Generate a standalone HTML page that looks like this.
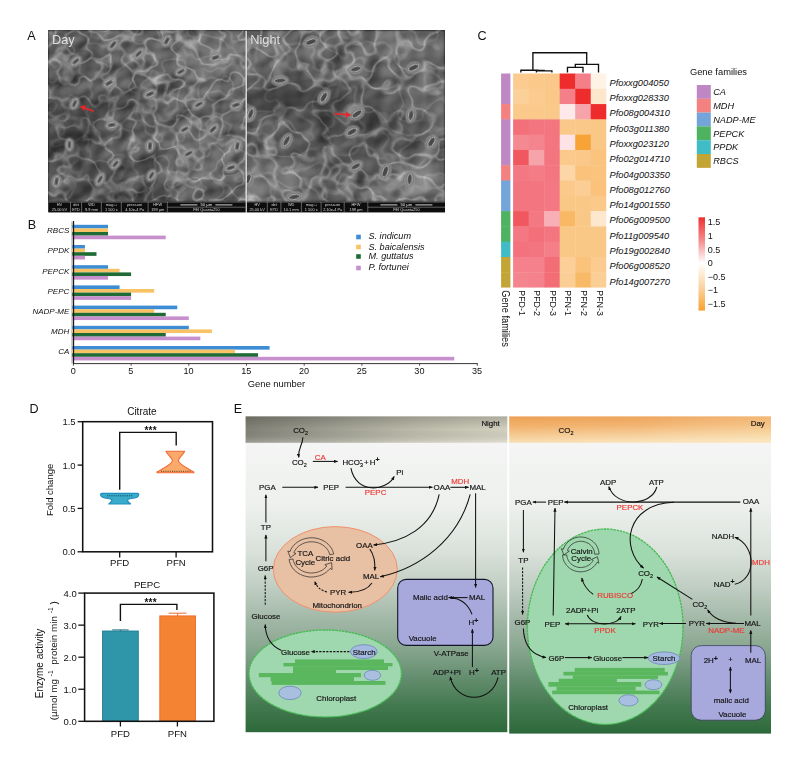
<!DOCTYPE html>
<html lang="en"><head><meta charset="utf-8"><title>Figure</title>
<style>
html,body{margin:0;padding:0;background:#fff}
svg{display:block}
text{font-family:"Liberation Sans",sans-serif}
</style></head><body>
<svg width="800" height="771" viewBox="0 0 800 771">
<rect width="800" height="771" fill="#ffffff"/>
<!-- panelA -->
<defs>
<filter id="semD" x="0" y="0" width="100%" height="100%" color-interpolation-filters="sRGB">
<feTurbulence type="fractalNoise" baseFrequency="0.045 0.05" numOctaves="2" seed="7" result="n"/>
<feComponentTransfer in="n" result="band">
<feFuncR type="table" tableValues="0 0 0 0 0 0 0 0 0 0 0 0 0 0 0.5 1 0.5 0 0 0 0 0 0 0 0 0 0 0 0 0 0"/><feFuncG type="table" tableValues="0 0 0 0 0 0 0 0 0 0 0 0 0 0 0.5 1 0.5 0 0 0 0 0 0 0 0 0 0 0 0 0 0"/><feFuncB type="table" tableValues="0 0 0 0 0 0 0 0 0 0 0 0 0 0 0.5 1 0.5 0 0 0 0 0 0 0 0 0 0 0 0 0 0"/>
<feFuncA type="linear" slope="0" intercept="1"/></feComponentTransfer>
<feColorMatrix in="band" type="matrix" values="0.36 0.18 0 0 0  0.36 0.18 0 0 0  0.36 0.18 0 0 0  0 0 0 0 1" result="ridge"/>
<feGaussianBlur in="ridge" stdDeviation="0.55" result="ridgeb"/>
<feDiffuseLighting in="n" surfaceScale="2.8" diffuseConstant="1" lighting-color="#ffffff" result="lit"><feDistantLight azimuth="235" elevation="55"/></feDiffuseLighting>
<feColorMatrix in="lit" type="matrix" values="0.9 0 0 0 -0.372  0.9 0 0 0 -0.372  0.9 0 0 0 -0.372  0 0 0 0 1" result="base"/>
<feGaussianBlur in="base" stdDeviation="0.8" result="baseb"/>
<feComposite in="ridgeb" in2="baseb" operator="arithmetic" k1="0" k2="0.5" k3="1" k4="0"/>
</filter>
<filter id="semN" x="0" y="0" width="100%" height="100%" color-interpolation-filters="sRGB">
<feTurbulence type="fractalNoise" baseFrequency="0.04 0.045" numOctaves="2" seed="23" result="n"/>
<feComponentTransfer in="n" result="band">
<feFuncR type="table" tableValues="0 0 0 0 0 0 0 0 0 0 0 0 0 0 0.5 1 0.5 0 0 0 0 0 0 0 0 0 0 0 0 0 0"/><feFuncG type="table" tableValues="0 0 0 0 0 0 0 0 0 0 0 0 0 0 0.5 1 0.5 0 0 0 0 0 0 0 0 0 0 0 0 0 0"/><feFuncB type="table" tableValues="0 0 0 0 0 0 0 0 0 0 0 0 0 0 0.5 1 0.5 0 0 0 0 0 0 0 0 0 0 0 0 0 0"/>
<feFuncA type="linear" slope="0" intercept="1"/></feComponentTransfer>
<feColorMatrix in="band" type="matrix" values="0.36 0.18 0 0 0  0.36 0.18 0 0 0  0.36 0.18 0 0 0  0 0 0 0 1" result="ridge"/>
<feGaussianBlur in="ridge" stdDeviation="0.55" result="ridgeb"/>
<feDiffuseLighting in="n" surfaceScale="2.8" diffuseConstant="1" lighting-color="#ffffff" result="lit"><feDistantLight azimuth="220" elevation="55"/></feDiffuseLighting>
<feColorMatrix in="lit" type="matrix" values="0.9 0 0 0 -0.372  0.9 0 0 0 -0.372  0.9 0 0 0 -0.372  0 0 0 0 1" result="base"/>
<feGaussianBlur in="base" stdDeviation="0.8" result="baseb"/>
<feComposite in="ridgeb" in2="baseb" operator="arithmetic" k1="0" k2="0.5" k3="1" k4="0"/>
</filter>
<filter id="bl6" x="-50%" y="-50%" width="200%" height="200%"><feGaussianBlur stdDeviation="9"/></filter>
<filter id="bl1" x="-20%" y="-20%" width="140%" height="140%"><feGaussianBlur stdDeviation="0.5"/></filter>
<clipPath id="cD"><rect x="48.30" y="30.80" width="197.10" height="171.00"/></clipPath>
<clipPath id="cN"><rect x="247.00" y="30.80" width="198.00" height="171.00"/></clipPath>
</defs>
<rect x="48.30" y="30.80" width="396.70" height="181.50" fill="#6c6c6c"/>
<rect x="48.3" y="30.8" width="197.90" height="171.00" fill="#6c6c6c" filter="url(#semD)"/>
<rect x="246.2" y="30.8" width="198.80" height="171.00" fill="#6c6c6c" filter="url(#semN)"/>
<g clip-path="url(#cD)" filter="url(#bl6)">
<ellipse cx="70" cy="130" rx="30" ry="40" fill="#000" opacity="0.28"/>
<ellipse cx="120" cy="185" rx="60" ry="20" fill="#000" opacity="0.22"/>
<ellipse cx="130" cy="110" rx="35" ry="18" fill="#000" opacity="0.18"/>
<ellipse cx="215" cy="60" rx="35" ry="25" fill="#fff" opacity="0.16"/>
<ellipse cx="150" cy="40" rx="50" ry="10" fill="#fff" opacity="0.1"/>
<ellipse cx="200" cy="150" rx="40" ry="30" fill="#fff" opacity="0.08"/>
<ellipse cx="90" cy="60" rx="25" ry="18" fill="#000" opacity="0.1"/>
</g>
<g clip-path="url(#cN)" filter="url(#bl6)">
<ellipse cx="300" cy="100" rx="55" ry="18" fill="#000" opacity="0.3"/>
<ellipse cx="380" cy="125" rx="60" ry="18" fill="#000" opacity="0.22"/>
<ellipse cx="330" cy="150" rx="40" ry="20" fill="#000" opacity="0.12"/>
<ellipse cx="420" cy="185" rx="30" ry="18" fill="#fff" opacity="0.22"/>
<ellipse cx="400" cy="45" rx="40" ry="15" fill="#fff" opacity="0.12"/>
<ellipse cx="270" cy="180" rx="30" ry="22" fill="#fff" opacity="0.14"/>
<ellipse cx="290" cy="50" rx="30" ry="15" fill="#fff" opacity="0.1"/>
<ellipse cx="430" cy="100" rx="20" ry="30" fill="#fff" opacity="0.1"/>
</g>
<g clip-path="url(#cD)">
<g transform="translate(113.0,44.7) rotate(-50)" filter="url(#bl1)"><ellipse rx="8.6" ry="5.9" fill="#858585" opacity=".42"/><ellipse rx="6.8" ry="4.3" fill="#747474" stroke="#9c9c9c" stroke-width=".7" opacity="0.95"/><ellipse rx="5.4" ry="2.6" fill="#6c6c6c" stroke="#b4b4b4" stroke-width=".9"/><ellipse rx="3.5" ry="0.55" fill="#222"/></g>
<g transform="translate(75.8,61.3) rotate(-40)" filter="url(#bl1)"><ellipse rx="7.8" ry="5.5" fill="#858585" opacity=".42"/><ellipse rx="6.0" ry="3.9" fill="#747474" stroke="#9c9c9c" stroke-width=".7" opacity="0.95"/><ellipse rx="4.8" ry="2.3" fill="#6c6c6c" stroke="#b4b4b4" stroke-width=".9"/><ellipse rx="3.1" ry="0.55" fill="#222"/></g>
<g transform="translate(166.8,40.8) rotate(-60)" filter="url(#bl1)"><ellipse rx="7.8" ry="5.9" fill="#858585" opacity=".42"/><ellipse rx="6.0" ry="4.3" fill="#747474" stroke="#9c9c9c" stroke-width=".7" opacity="0.95"/><ellipse rx="4.8" ry="2.6" fill="#6c6c6c" stroke="#b4b4b4" stroke-width=".9"/><ellipse rx="3.1" ry="0.55" fill="#222"/></g>
<g transform="translate(138.6,53.6) rotate(-45)" filter="url(#bl1)"><ellipse rx="8.6" ry="5.5" fill="#858585" opacity=".42"/><ellipse rx="6.8" ry="3.9" fill="#747474" stroke="#9c9c9c" stroke-width=".7" opacity="0.95"/><ellipse rx="5.4" ry="2.3" fill="#6c6c6c" stroke="#b4b4b4" stroke-width=".9"/><ellipse rx="3.5" ry="0.55" fill="#222"/></g>
<g transform="translate(215.5,57.5) rotate(-20)" filter="url(#bl1)"><ellipse rx="7.8" ry="5.9" fill="#858585" opacity=".42"/><ellipse rx="6.0" ry="4.3" fill="#747474" stroke="#9c9c9c" stroke-width=".7" opacity="0.95"/><ellipse rx="4.8" ry="2.6" fill="#6c6c6c" stroke="#b4b4b4" stroke-width=".9"/><ellipse rx="3.1" ry="0.55" fill="#222"/></g>
<g transform="translate(180.9,71.6) rotate(-30)" filter="url(#bl1)"><ellipse rx="7.8" ry="5.5" fill="#858585" opacity=".42"/><ellipse rx="6.0" ry="3.9" fill="#747474" stroke="#9c9c9c" stroke-width=".7" opacity="0.95"/><ellipse rx="4.8" ry="2.3" fill="#6c6c6c" stroke="#b4b4b4" stroke-width=".9"/><ellipse rx="3.1" ry="0.55" fill="#222"/></g>
<g transform="translate(150.0,94.0) rotate(-25)" filter="url(#bl1)"><ellipse rx="8.6" ry="5.9" fill="#858585" opacity=".42"/><ellipse rx="6.8" ry="4.3" fill="#747474" stroke="#9c9c9c" stroke-width=".7" opacity="0.95"/><ellipse rx="5.4" ry="2.6" fill="#6c6c6c" stroke="#b4b4b4" stroke-width=".9"/><ellipse rx="3.5" ry="0.55" fill="#222"/></g>
<g transform="translate(74.5,103.6) rotate(-65)" filter="url(#bl1)"><ellipse rx="7.8" ry="5.5" fill="#858585" opacity=".42"/><ellipse rx="6.0" ry="3.9" fill="#747474" stroke="#9c9c9c" stroke-width=".7" opacity="0.95"/><ellipse rx="4.8" ry="2.3" fill="#6c6c6c" stroke="#b4b4b4" stroke-width=".9"/><ellipse rx="3.1" ry="0.55" fill="#222"/></g>
<g transform="translate(109.0,83.0) rotate(-30)" filter="url(#bl1)"><ellipse rx="7.8" ry="5.9" fill="#858585" opacity=".42"/><ellipse rx="6.0" ry="4.3" fill="#747474" stroke="#9c9c9c" stroke-width=".7" opacity="0.95"/><ellipse rx="4.8" ry="2.6" fill="#6c6c6c" stroke="#b4b4b4" stroke-width=".9"/><ellipse rx="3.1" ry="0.55" fill="#222"/></g>
<g transform="translate(198.8,104.4) rotate(-30)" filter="url(#bl1)"><ellipse rx="8.6" ry="5.5" fill="#858585" opacity=".42"/><ellipse rx="6.8" ry="3.9" fill="#747474" stroke="#9c9c9c" stroke-width=".7" opacity="0.95"/><ellipse rx="5.4" ry="2.3" fill="#6c6c6c" stroke="#b4b4b4" stroke-width=".9"/><ellipse rx="3.5" ry="0.55" fill="#222"/></g>
<g transform="translate(111.7,125.0) rotate(-10)" filter="url(#bl1)"><ellipse rx="7.8" ry="5.9" fill="#858585" opacity=".42"/><ellipse rx="6.0" ry="4.3" fill="#747474" stroke="#9c9c9c" stroke-width=".7" opacity="0.95"/><ellipse rx="4.8" ry="2.6" fill="#6c6c6c" stroke="#b4b4b4" stroke-width=".9"/><ellipse rx="3.1" ry="0.55" fill="#222"/></g>
<g transform="translate(184.7,129.3) rotate(-30)" filter="url(#bl1)"><ellipse rx="7.8" ry="5.5" fill="#858585" opacity=".42"/><ellipse rx="6.0" ry="3.9" fill="#747474" stroke="#9c9c9c" stroke-width=".7" opacity="0.95"/><ellipse rx="4.8" ry="2.3" fill="#6c6c6c" stroke="#b4b4b4" stroke-width=".9"/><ellipse rx="3.1" ry="0.55" fill="#222"/></g>
<g transform="translate(213.0,129.3) rotate(-45)" filter="url(#bl1)"><ellipse rx="8.6" ry="5.9" fill="#858585" opacity=".42"/><ellipse rx="6.8" ry="4.3" fill="#747474" stroke="#9c9c9c" stroke-width=".7" opacity="0.95"/><ellipse rx="5.4" ry="2.6" fill="#6c6c6c" stroke="#b4b4b4" stroke-width=".9"/><ellipse rx="3.5" ry="0.55" fill="#222"/></g>
<g transform="translate(69.4,144.7) rotate(-90)" filter="url(#bl1)"><ellipse rx="7.8" ry="5.5" fill="#858585" opacity=".42"/><ellipse rx="6.0" ry="3.9" fill="#747474" stroke="#9c9c9c" stroke-width=".7" opacity="0.95"/><ellipse rx="4.8" ry="2.3" fill="#6c6c6c" stroke="#b4b4b4" stroke-width=".9"/><ellipse rx="3.1" ry="0.55" fill="#222"/></g>
<g transform="translate(150.0,146.0) rotate(-85)" filter="url(#bl1)"><ellipse rx="7.8" ry="5.9" fill="#858585" opacity=".42"/><ellipse rx="6.0" ry="4.3" fill="#747474" stroke="#9c9c9c" stroke-width=".7" opacity="0.95"/><ellipse rx="4.8" ry="2.6" fill="#6c6c6c" stroke="#b4b4b4" stroke-width=".9"/><ellipse rx="3.1" ry="0.55" fill="#222"/></g>
<g transform="translate(188.6,153.6) rotate(-30)" filter="url(#bl1)"><ellipse rx="8.6" ry="5.5" fill="#858585" opacity=".42"/><ellipse rx="6.8" ry="3.9" fill="#747474" stroke="#9c9c9c" stroke-width=".7" opacity="0.95"/><ellipse rx="5.4" ry="2.3" fill="#6c6c6c" stroke="#b4b4b4" stroke-width=".9"/><ellipse rx="3.5" ry="0.55" fill="#222"/></g>
<g transform="translate(237.3,146.0) rotate(-80)" filter="url(#bl1)"><ellipse rx="7.8" ry="5.9" fill="#858585" opacity=".42"/><ellipse rx="6.0" ry="4.3" fill="#747474" stroke="#9c9c9c" stroke-width=".7" opacity="0.95"/><ellipse rx="4.8" ry="2.6" fill="#6c6c6c" stroke="#b4b4b4" stroke-width=".9"/><ellipse rx="3.1" ry="0.55" fill="#222"/></g>
<g transform="translate(115.5,163.9) rotate(-50)" filter="url(#bl1)"><ellipse rx="7.8" ry="5.5" fill="#858585" opacity=".42"/><ellipse rx="6.0" ry="3.9" fill="#747474" stroke="#9c9c9c" stroke-width=".7" opacity="0.95"/><ellipse rx="4.8" ry="2.3" fill="#6c6c6c" stroke="#b4b4b4" stroke-width=".9"/><ellipse rx="3.1" ry="0.55" fill="#222"/></g>
<g transform="translate(230.9,167.7) rotate(-20)" filter="url(#bl1)"><ellipse rx="8.6" ry="5.9" fill="#858585" opacity=".42"/><ellipse rx="6.8" ry="4.3" fill="#747474" stroke="#9c9c9c" stroke-width=".7" opacity="0.95"/><ellipse rx="5.4" ry="2.6" fill="#6c6c6c" stroke="#b4b4b4" stroke-width=".9"/><ellipse rx="3.5" ry="0.55" fill="#222"/></g>
<g transform="translate(151.4,175.4) rotate(-60)" filter="url(#bl1)"><ellipse rx="7.8" ry="5.5" fill="#858585" opacity=".42"/><ellipse rx="6.0" ry="3.9" fill="#747474" stroke="#9c9c9c" stroke-width=".7" opacity="0.95"/><ellipse rx="4.8" ry="2.3" fill="#6c6c6c" stroke="#b4b4b4" stroke-width=".9"/><ellipse rx="3.1" ry="0.55" fill="#222"/></g>
<g transform="translate(56.5,181.3) rotate(-80)" filter="url(#bl1)"><ellipse rx="7.8" ry="5.9" fill="#858585" opacity=".42"/><ellipse rx="6.0" ry="4.3" fill="#747474" stroke="#9c9c9c" stroke-width=".7" opacity="0.95"/><ellipse rx="4.8" ry="2.6" fill="#6c6c6c" stroke="#b4b4b4" stroke-width=".9"/><ellipse rx="3.1" ry="0.55" fill="#222"/></g>
<g transform="translate(100.0,179.3) rotate(-60)" filter="url(#bl1)"><ellipse rx="8.6" ry="5.5" fill="#858585" opacity=".42"/><ellipse rx="6.8" ry="3.9" fill="#747474" stroke="#9c9c9c" stroke-width=".7" opacity="0.95"/><ellipse rx="5.4" ry="2.3" fill="#6c6c6c" stroke="#b4b4b4" stroke-width=".9"/><ellipse rx="3.5" ry="0.55" fill="#222"/></g>
<g transform="translate(236.0,105.0) rotate(-20)" filter="url(#bl1)"><ellipse rx="7.8" ry="5.9" fill="#858585" opacity=".42"/><ellipse rx="6.0" ry="4.3" fill="#747474" stroke="#9c9c9c" stroke-width=".7" opacity="0.95"/><ellipse rx="4.8" ry="2.6" fill="#6c6c6c" stroke="#b4b4b4" stroke-width=".9"/><ellipse rx="3.1" ry="0.55" fill="#222"/></g>
</g><g clip-path="url(#cN)">
<g transform="translate(311.0,42.0) rotate(-20)" filter="url(#bl1)"><ellipse rx="9.6" ry="6.7" fill="#858585" opacity=".42"/><ellipse rx="7.8" ry="5.1" fill="#747474" stroke="#9c9c9c" stroke-width=".7" opacity="1"/><ellipse rx="5.9" ry="2.7" fill="#484848" stroke="#b6b6b6" stroke-width=".95"/></g>
<g transform="translate(355.8,69.0) rotate(-15)" filter="url(#bl1)"><ellipse rx="9.0" ry="6.3" fill="#858585" opacity=".42"/><ellipse rx="7.2" ry="4.7" fill="#747474" stroke="#9c9c9c" stroke-width=".7" opacity="1"/><ellipse rx="5.5" ry="2.4" fill="#484848" stroke="#b6b6b6" stroke-width=".95"/></g>
<g transform="translate(413.5,67.7) rotate(-25)" filter="url(#bl1)"><ellipse rx="9.0" ry="6.7" fill="#858585" opacity=".42"/><ellipse rx="7.2" ry="5.1" fill="#747474" stroke="#9c9c9c" stroke-width=".7" opacity="1"/><ellipse rx="5.5" ry="2.7" fill="#484848" stroke="#b6b6b6" stroke-width=".95"/></g>
<g transform="translate(280.2,80.6) rotate(-5)" filter="url(#bl1)"><ellipse rx="9.6" ry="6.3" fill="#858585" opacity=".42"/><ellipse rx="7.8" ry="4.7" fill="#747474" stroke="#9c9c9c" stroke-width=".7" opacity="1"/><ellipse rx="5.9" ry="2.4" fill="#484848" stroke="#b6b6b6" stroke-width=".95"/></g>
<g transform="translate(323.8,97.2) rotate(-60)" filter="url(#bl1)"><ellipse rx="9.0" ry="6.7" fill="#858585" opacity=".42"/><ellipse rx="7.2" ry="5.1" fill="#747474" stroke="#9c9c9c" stroke-width=".7" opacity="1"/><ellipse rx="5.5" ry="2.7" fill="#484848" stroke="#b6b6b6" stroke-width=".95"/></g>
<g transform="translate(250.7,113.9) rotate(-70)" filter="url(#bl1)"><ellipse rx="9.0" ry="6.3" fill="#858585" opacity=".42"/><ellipse rx="7.2" ry="4.7" fill="#747474" stroke="#9c9c9c" stroke-width=".7" opacity="1"/><ellipse rx="5.5" ry="2.4" fill="#484848" stroke="#b6b6b6" stroke-width=".95"/></g>
<g transform="translate(357.0,113.9) rotate(-35)" filter="url(#bl1)"><ellipse rx="9.6" ry="6.7" fill="#858585" opacity=".42"/><ellipse rx="7.8" ry="5.1" fill="#747474" stroke="#9c9c9c" stroke-width=".7" opacity="1"/><ellipse rx="5.9" ry="2.7" fill="#484848" stroke="#b6b6b6" stroke-width=".95"/></g>
<g transform="translate(411.0,115.2) rotate(-80)" filter="url(#bl1)"><ellipse rx="9.0" ry="6.3" fill="#858585" opacity=".42"/><ellipse rx="7.2" ry="4.7" fill="#747474" stroke="#9c9c9c" stroke-width=".7" opacity="1"/><ellipse rx="5.5" ry="2.4" fill="#484848" stroke="#b6b6b6" stroke-width=".95"/></g>
<g transform="translate(352.0,131.8) rotate(-30)" filter="url(#bl1)"><ellipse rx="9.0" ry="6.7" fill="#858585" opacity=".42"/><ellipse rx="7.2" ry="5.1" fill="#747474" stroke="#9c9c9c" stroke-width=".7" opacity="1"/><ellipse rx="5.5" ry="2.7" fill="#484848" stroke="#b6b6b6" stroke-width=".95"/></g>
<g transform="translate(286.6,140.8) rotate(-60)" filter="url(#bl1)"><ellipse rx="9.6" ry="6.3" fill="#858585" opacity=".42"/><ellipse rx="7.8" ry="4.7" fill="#747474" stroke="#9c9c9c" stroke-width=".7" opacity="1"/><ellipse rx="5.9" ry="2.4" fill="#484848" stroke="#b6b6b6" stroke-width=".95"/></g>
<g transform="translate(431.5,142.0) rotate(-60)" filter="url(#bl1)"><ellipse rx="9.0" ry="6.7" fill="#858585" opacity=".42"/><ellipse rx="7.2" ry="5.1" fill="#747474" stroke="#9c9c9c" stroke-width=".7" opacity="1"/><ellipse rx="5.5" ry="2.7" fill="#484848" stroke="#b6b6b6" stroke-width=".95"/></g>
<g transform="translate(355.8,166.4) rotate(-30)" filter="url(#bl1)"><ellipse rx="9.0" ry="6.3" fill="#858585" opacity=".42"/><ellipse rx="7.2" ry="4.7" fill="#747474" stroke="#9c9c9c" stroke-width=".7" opacity="1"/><ellipse rx="5.5" ry="2.4" fill="#484848" stroke="#b6b6b6" stroke-width=".95"/></g>
<g transform="translate(385.3,171.6) rotate(-70)" filter="url(#bl1)"><ellipse rx="9.6" ry="6.7" fill="#858585" opacity=".42"/><ellipse rx="7.8" ry="5.1" fill="#747474" stroke="#9c9c9c" stroke-width=".7" opacity="1"/><ellipse rx="5.9" ry="2.7" fill="#484848" stroke="#b6b6b6" stroke-width=".95"/></g>
<g transform="translate(409.7,179.3) rotate(-85)" filter="url(#bl1)"><ellipse rx="9.0" ry="6.3" fill="#858585" opacity=".42"/><ellipse rx="7.2" ry="4.7" fill="#747474" stroke="#9c9c9c" stroke-width=".7" opacity="1"/><ellipse rx="5.5" ry="2.4" fill="#484848" stroke="#b6b6b6" stroke-width=".95"/></g>
<g transform="translate(248.0,179.0) rotate(-70)" filter="url(#bl1)"><ellipse rx="9.0" ry="6.7" fill="#858585" opacity=".42"/><ellipse rx="7.2" ry="5.1" fill="#747474" stroke="#9c9c9c" stroke-width=".7" opacity="1"/><ellipse rx="5.5" ry="2.7" fill="#484848" stroke="#b6b6b6" stroke-width=".95"/></g>
<g transform="translate(294.3,197.0) rotate(-10)" filter="url(#bl1)"><ellipse rx="9.6" ry="6.3" fill="#858585" opacity=".42"/><ellipse rx="7.8" ry="4.7" fill="#747474" stroke="#9c9c9c" stroke-width=".7" opacity="1"/><ellipse rx="5.9" ry="2.4" fill="#484848" stroke="#b6b6b6" stroke-width=".95"/></g>
</g>
<rect x="245.50" y="30.80" width="1.40" height="181.50" fill="#e6e6e6"/>
<rect x="48.30" y="201.80" width="197.20" height="10.50" fill="#0d0d0d"/>
<line x1="48.30" y1="202.10" x2="245.50" y2="202.10" stroke="#8a8a8a" stroke-width="0.6"/>
<line x1="70.50" y1="201.80" x2="70.50" y2="212.30" stroke="#9a9a9a" stroke-width="0.6"/>
<text x="59.40" y="206.40" font-size="3.9" text-anchor="middle" fill="#d8d8d8">HV</text>
<text x="59.40" y="211.20" font-size="3.9" text-anchor="middle" fill="#d8d8d8">25.00 kV</text>
<line x1="81.60" y1="201.80" x2="81.60" y2="212.30" stroke="#9a9a9a" stroke-width="0.6"/>
<text x="76.05" y="206.40" font-size="3.9" text-anchor="middle" fill="#d8d8d8">det</text>
<text x="76.05" y="211.20" font-size="3.9" text-anchor="middle" fill="#d8d8d8">ETD</text>
<line x1="101.30" y1="201.80" x2="101.30" y2="212.30" stroke="#9a9a9a" stroke-width="0.6"/>
<text x="91.45" y="206.40" font-size="3.9" text-anchor="middle" fill="#d8d8d8">WD</text>
<text x="91.45" y="211.20" font-size="3.9" text-anchor="middle" fill="#d8d8d8">9.9 mm</text>
<line x1="121.30" y1="201.80" x2="121.30" y2="212.30" stroke="#9a9a9a" stroke-width="0.6"/>
<text x="111.30" y="206.40" font-size="3.9" text-anchor="middle" fill="#d8d8d8">mag &#9633;</text>
<text x="111.30" y="211.20" font-size="3.9" text-anchor="middle" fill="#d8d8d8">1 500 x</text>
<line x1="148.10" y1="201.80" x2="148.10" y2="212.30" stroke="#9a9a9a" stroke-width="0.6"/>
<text x="134.70" y="206.40" font-size="3.9" text-anchor="middle" fill="#d8d8d8">pressure</text>
<text x="134.70" y="211.20" font-size="3.9" text-anchor="middle" fill="#d8d8d8">4.10e-4 Pa</text>
<line x1="167.30" y1="201.80" x2="167.30" y2="212.30" stroke="#9a9a9a" stroke-width="0.6"/>
<text x="157.70" y="206.40" font-size="3.9" text-anchor="middle" fill="#d8d8d8">HFW</text>
<text x="157.70" y="211.20" font-size="3.9" text-anchor="middle" fill="#d8d8d8">199 &#181;m</text>
<line x1="167.30" y1="207.20" x2="245.50" y2="207.20" stroke="#9a9a9a" stroke-width="0.6"/>
<text x="206.40" y="206.40" font-size="4.2" text-anchor="middle" fill="#e8e8e8">50 &#181;m</text>
<line x1="180.40" y1="204.90" x2="197.40" y2="204.90" stroke="#e8e8e8" stroke-width="0.9"/>
<line x1="215.40" y1="204.90" x2="232.40" y2="204.90" stroke="#e8e8e8" stroke-width="0.9"/>
<text x="206.40" y="211.40" font-size="3.9" text-anchor="middle" fill="#d8d8d8">FEI Quanta250</text>
<rect x="246.90" y="201.80" width="198.10" height="10.50" fill="#0d0d0d"/>
<line x1="246.90" y1="202.10" x2="445.00" y2="202.10" stroke="#8a8a8a" stroke-width="0.6"/>
<line x1="267.30" y1="201.80" x2="267.30" y2="212.30" stroke="#9a9a9a" stroke-width="0.6"/>
<text x="257.10" y="206.40" font-size="3.9" text-anchor="middle" fill="#d8d8d8">HV</text>
<text x="257.10" y="211.20" font-size="3.9" text-anchor="middle" fill="#d8d8d8">25.00 kV</text>
<line x1="280.90" y1="201.80" x2="280.90" y2="212.30" stroke="#9a9a9a" stroke-width="0.6"/>
<text x="274.10" y="206.40" font-size="3.9" text-anchor="middle" fill="#d8d8d8">det</text>
<text x="274.10" y="211.20" font-size="3.9" text-anchor="middle" fill="#d8d8d8">ETD</text>
<line x1="301.40" y1="201.80" x2="301.40" y2="212.30" stroke="#9a9a9a" stroke-width="0.6"/>
<text x="291.15" y="206.40" font-size="3.9" text-anchor="middle" fill="#d8d8d8">WD</text>
<text x="291.15" y="211.20" font-size="3.9" text-anchor="middle" fill="#d8d8d8">10.1 mm</text>
<line x1="321.10" y1="201.80" x2="321.10" y2="212.30" stroke="#9a9a9a" stroke-width="0.6"/>
<text x="311.25" y="206.40" font-size="3.9" text-anchor="middle" fill="#d8d8d8">mag &#9633;</text>
<text x="311.25" y="211.20" font-size="3.9" text-anchor="middle" fill="#d8d8d8">1 500 x</text>
<line x1="344.20" y1="201.80" x2="344.20" y2="212.30" stroke="#9a9a9a" stroke-width="0.6"/>
<text x="332.65" y="206.40" font-size="3.9" text-anchor="middle" fill="#d8d8d8">pressure</text>
<text x="332.65" y="211.20" font-size="3.9" text-anchor="middle" fill="#d8d8d8">2.10e-4 Pa</text>
<line x1="367.80" y1="201.80" x2="367.80" y2="212.30" stroke="#9a9a9a" stroke-width="0.6"/>
<text x="356.00" y="206.40" font-size="3.9" text-anchor="middle" fill="#d8d8d8">HFW</text>
<text x="356.00" y="211.20" font-size="3.9" text-anchor="middle" fill="#d8d8d8">199 &#181;m</text>
<line x1="367.80" y1="207.20" x2="445.00" y2="207.20" stroke="#9a9a9a" stroke-width="0.6"/>
<text x="406.40" y="206.40" font-size="4.2" text-anchor="middle" fill="#e8e8e8">50 &#181;m</text>
<line x1="380.40" y1="204.90" x2="397.40" y2="204.90" stroke="#e8e8e8" stroke-width="0.9"/>
<line x1="415.40" y1="204.90" x2="432.40" y2="204.90" stroke="#e8e8e8" stroke-width="0.9"/>
<text x="406.40" y="211.40" font-size="3.9" text-anchor="middle" fill="#d8d8d8">FEI Quanta250</text>
<text x="27.20" y="39.60" font-size="12.6" text-anchor="start" fill="#111">A</text>
<text x="52.00" y="44.20" font-size="12.8" text-anchor="start" fill="#dedede">Day</text>
<text x="250.20" y="44.20" font-size="12.8" text-anchor="start" fill="#dedede">Night</text>
<line x1="93.70" y1="111.30" x2="85.07" y2="108.20" stroke="#e8262a" stroke-width="1.6"/><polygon points="79.80,106.30 86.08,105.37 84.05,111.02" fill="#e8262a"/>
<line x1="334.50" y1="113.80" x2="345.72" y2="114.67" stroke="#e8262a" stroke-width="1.6"/><polygon points="351.30,115.10 345.49,117.66 345.95,111.68" fill="#e8262a"/>
<!-- panelB -->
<rect x="71.30" y="221.50" width="1.80" height="142.10" fill="#b9b9b9"/>
<rect x="72.20" y="224.80" width="35.82" height="3.65" fill="#3c8dd4"/>
<rect x="72.20" y="228.40" width="35.82" height="3.65" fill="#f8c367"/>
<rect x="72.20" y="232.00" width="35.82" height="3.65" fill="#1f6b35"/>
<rect x="72.20" y="235.60" width="93.52" height="3.65" fill="#c78fcc"/>
<text x="69.30" y="233.10" font-size="8.0" text-anchor="end" fill="#111" font-style="italic">RBCS</text>
<rect x="72.20" y="245.00" width="12.74" height="3.65" fill="#3c8dd4"/>
<rect x="72.20" y="248.60" width="12.74" height="3.65" fill="#f8c367"/>
<rect x="72.20" y="252.20" width="24.28" height="3.65" fill="#1f6b35"/>
<rect x="72.20" y="255.80" width="12.74" height="3.65" fill="#c78fcc"/>
<text x="69.30" y="253.30" font-size="8.0" text-anchor="end" fill="#111" font-style="italic">PPDK</text>
<rect x="72.20" y="265.20" width="35.82" height="3.65" fill="#3c8dd4"/>
<rect x="72.20" y="268.80" width="47.36" height="3.65" fill="#f8c367"/>
<rect x="72.20" y="272.40" width="58.90" height="3.65" fill="#1f6b35"/>
<rect x="72.20" y="276.00" width="35.82" height="3.65" fill="#c78fcc"/>
<text x="69.30" y="273.50" font-size="8.0" text-anchor="end" fill="#111" font-style="italic">PEPCK</text>
<rect x="72.20" y="285.40" width="47.36" height="3.65" fill="#3c8dd4"/>
<rect x="72.20" y="289.00" width="81.98" height="3.65" fill="#f8c367"/>
<rect x="72.20" y="292.60" width="58.90" height="3.65" fill="#1f6b35"/>
<rect x="72.20" y="296.20" width="58.90" height="3.65" fill="#c78fcc"/>
<text x="69.30" y="293.70" font-size="8.0" text-anchor="end" fill="#111" font-style="italic">PEPC</text>
<rect x="72.20" y="305.60" width="105.06" height="3.65" fill="#3c8dd4"/>
<rect x="72.20" y="309.20" width="81.98" height="3.65" fill="#f8c367"/>
<rect x="72.20" y="312.80" width="93.52" height="3.65" fill="#1f6b35"/>
<rect x="72.20" y="316.40" width="116.60" height="3.65" fill="#c78fcc"/>
<text x="69.30" y="313.90" font-size="8.0" text-anchor="end" fill="#111" font-style="italic">NADP-ME</text>
<rect x="72.20" y="325.80" width="116.60" height="3.65" fill="#3c8dd4"/>
<rect x="72.20" y="329.40" width="139.68" height="3.65" fill="#f8c367"/>
<rect x="72.20" y="333.00" width="93.52" height="3.65" fill="#1f6b35"/>
<rect x="72.20" y="336.60" width="128.14" height="3.65" fill="#c78fcc"/>
<text x="69.30" y="334.10" font-size="8.0" text-anchor="end" fill="#111" font-style="italic">MDH</text>
<rect x="72.20" y="346.00" width="197.38" height="3.65" fill="#3c8dd4"/>
<rect x="72.20" y="349.60" width="162.76" height="3.65" fill="#f8c367"/>
<rect x="72.20" y="353.20" width="185.84" height="3.65" fill="#1f6b35"/>
<rect x="72.20" y="356.80" width="382.02" height="3.65" fill="#c78fcc"/>
<text x="69.30" y="354.30" font-size="8.0" text-anchor="end" fill="#111" font-style="italic">CA</text>
<line x1="73.60" y1="221.00" x2="73.60" y2="364.10" stroke="#111" stroke-width="1.1"/>
<line x1="73.00" y1="363.60" x2="477.80" y2="363.60" stroke="#2a2a2a" stroke-width="0.95"/>
<line x1="73.40" y1="363.60" x2="73.40" y2="365.80" stroke="#2a2a2a" stroke-width="0.8"/>
<text x="73.20" y="373.80" font-size="9.1" text-anchor="middle" fill="#111">0</text>
<line x1="131.10" y1="363.60" x2="131.10" y2="365.80" stroke="#2a2a2a" stroke-width="0.8"/>
<text x="130.90" y="373.80" font-size="9.1" text-anchor="middle" fill="#111">5</text>
<line x1="188.80" y1="363.60" x2="188.80" y2="365.80" stroke="#2a2a2a" stroke-width="0.8"/>
<text x="188.60" y="373.80" font-size="9.1" text-anchor="middle" fill="#111">10</text>
<line x1="246.50" y1="363.60" x2="246.50" y2="365.80" stroke="#2a2a2a" stroke-width="0.8"/>
<text x="246.30" y="373.80" font-size="9.1" text-anchor="middle" fill="#111">15</text>
<line x1="304.20" y1="363.60" x2="304.20" y2="365.80" stroke="#2a2a2a" stroke-width="0.8"/>
<text x="304.00" y="373.80" font-size="9.1" text-anchor="middle" fill="#111">20</text>
<line x1="361.90" y1="363.60" x2="361.90" y2="365.80" stroke="#2a2a2a" stroke-width="0.8"/>
<text x="361.70" y="373.80" font-size="9.1" text-anchor="middle" fill="#111">25</text>
<line x1="419.60" y1="363.60" x2="419.60" y2="365.80" stroke="#2a2a2a" stroke-width="0.8"/>
<text x="419.40" y="373.80" font-size="9.1" text-anchor="middle" fill="#111">30</text>
<line x1="477.30" y1="363.60" x2="477.30" y2="365.80" stroke="#2a2a2a" stroke-width="0.8"/>
<text x="477.10" y="373.80" font-size="9.1" text-anchor="middle" fill="#111">35</text>
<text x="276.50" y="387.40" font-size="9.4" text-anchor="middle" fill="#111">Gene number</text>
<rect x="356.20" y="234.70" width="4.60" height="4.60" fill="#3c8dd4"/>
<text x="368.50" y="239.10" font-size="9.1" text-anchor="start" fill="#111" font-style="italic">S. indicum</text>
<rect x="356.20" y="244.70" width="4.60" height="4.60" fill="#f8c367"/>
<text x="368.50" y="250.10" font-size="9.1" text-anchor="start" fill="#111" font-style="italic">S. baicalensis</text>
<rect x="356.20" y="254.20" width="4.60" height="4.60" fill="#1f6b35"/>
<text x="368.50" y="258.50" font-size="9.1" text-anchor="start" fill="#111" font-style="italic">M. guttatus</text>
<rect x="356.20" y="265.70" width="4.60" height="4.60" fill="#c78fcc"/>
<text x="368.50" y="270.20" font-size="9.1" text-anchor="start" fill="#111" font-style="italic">P. fortunei</text>
<text x="27.80" y="229.30" font-size="12.6" text-anchor="start" fill="#111">B</text>
<!-- panelC -->
<rect x="501.10" y="73.50" width="9.30" height="15.69" fill="#c087c5"/>
<rect x="513.10" y="73.50" width="15.93" height="15.69" fill="#fbcb8f"/>
<rect x="528.63" y="73.50" width="15.93" height="15.69" fill="#fbca8b"/>
<rect x="544.16" y="73.50" width="15.93" height="15.69" fill="#fac989"/>
<rect x="559.69" y="73.50" width="15.93" height="15.69" fill="#ee2c2c"/>
<rect x="575.22" y="73.50" width="15.93" height="15.69" fill="#f47f89"/>
<rect x="590.75" y="73.50" width="15.53" height="15.69" fill="#fef3e5"/>
<text transform="translate(609.5,85.80) scale(1.05,1)" font-size="8.85" font-style="italic" fill="#111">Pfoxxg004050</text>
<rect x="501.10" y="88.79" width="9.30" height="15.69" fill="#c087c5"/>
<rect x="513.10" y="88.79" width="15.93" height="15.69" fill="#fbd19a"/>
<rect x="528.63" y="88.79" width="15.93" height="15.69" fill="#fbcb8f"/>
<rect x="544.16" y="88.79" width="15.93" height="15.69" fill="#fac989"/>
<rect x="559.69" y="88.79" width="15.93" height="15.69" fill="#f47f89"/>
<rect x="575.22" y="88.79" width="15.93" height="15.69" fill="#ee2c2c"/>
<rect x="590.75" y="88.79" width="15.53" height="15.69" fill="#fde7ca"/>
<text transform="translate(609.5,101.08) scale(1.05,1)" font-size="8.85" font-style="italic" fill="#111">Pfoxxg028330</text>
<rect x="501.10" y="104.08" width="9.30" height="15.69" fill="#f3817f"/>
<rect x="513.10" y="104.08" width="15.93" height="15.69" fill="#fbca8b"/>
<rect x="528.63" y="104.08" width="15.93" height="15.69" fill="#fbca8b"/>
<rect x="544.16" y="104.08" width="15.93" height="15.69" fill="#fac989"/>
<rect x="559.69" y="104.08" width="15.93" height="15.69" fill="#fde8ea"/>
<rect x="575.22" y="104.08" width="15.93" height="15.69" fill="#f7a3aa"/>
<rect x="590.75" y="104.08" width="15.53" height="15.69" fill="#ee2c2c"/>
<text transform="translate(609.5,116.38) scale(1.05,1)" font-size="8.85" font-style="italic" fill="#111">Pfo08g004310</text>
<rect x="501.10" y="119.37" width="9.30" height="15.69" fill="#c087c5"/>
<rect x="513.10" y="119.37" width="15.93" height="15.69" fill="#f3707b"/>
<rect x="528.63" y="119.37" width="15.93" height="15.69" fill="#f37580"/>
<rect x="544.16" y="119.37" width="15.93" height="15.69" fill="#f37580"/>
<rect x="559.69" y="119.37" width="15.93" height="15.69" fill="#fac989"/>
<rect x="575.22" y="119.37" width="15.93" height="15.69" fill="#fac989"/>
<rect x="590.75" y="119.37" width="15.53" height="15.69" fill="#fac886"/>
<text transform="translate(609.5,131.66) scale(1.05,1)" font-size="8.85" font-style="italic" fill="#111">Pfo03g011380</text>
<rect x="501.10" y="134.66" width="9.30" height="15.69" fill="#c087c5"/>
<rect x="513.10" y="134.66" width="15.93" height="15.69" fill="#f58992"/>
<rect x="528.63" y="134.66" width="15.93" height="15.69" fill="#f4848e"/>
<rect x="544.16" y="134.66" width="15.93" height="15.69" fill="#f37580"/>
<rect x="559.69" y="134.66" width="15.93" height="15.69" fill="#fde3e5"/>
<rect x="575.22" y="134.66" width="15.93" height="15.69" fill="#f7a336"/>
<rect x="590.75" y="134.66" width="15.53" height="15.69" fill="#fac886"/>
<text transform="translate(609.5,146.96) scale(1.05,1)" font-size="8.85" font-style="italic" fill="#111">Pfoxxg023120</text>
<rect x="501.10" y="149.95" width="9.30" height="15.69" fill="#c087c5"/>
<rect x="513.10" y="149.95" width="15.93" height="15.69" fill="#f1575e"/>
<rect x="528.63" y="149.95" width="15.93" height="15.69" fill="#f7a3aa"/>
<rect x="544.16" y="149.95" width="15.93" height="15.69" fill="#f37580"/>
<rect x="559.69" y="149.95" width="15.93" height="15.69" fill="#fbca8b"/>
<rect x="575.22" y="149.95" width="15.93" height="15.69" fill="#fac989"/>
<rect x="590.75" y="149.95" width="15.53" height="15.69" fill="#fac47f"/>
<text transform="translate(609.5,162.25) scale(1.05,1)" font-size="8.85" font-style="italic" fill="#111">Pfo02g014710</text>
<rect x="501.10" y="165.24" width="9.30" height="15.69" fill="#f3817f"/>
<rect x="513.10" y="165.24" width="15.93" height="15.69" fill="#f37883"/>
<rect x="528.63" y="165.24" width="15.93" height="15.69" fill="#f47c87"/>
<rect x="544.16" y="165.24" width="15.93" height="15.69" fill="#f37580"/>
<rect x="559.69" y="165.24" width="15.93" height="15.69" fill="#fcd6a6"/>
<rect x="575.22" y="165.24" width="15.93" height="15.69" fill="#fac27b"/>
<rect x="590.75" y="165.24" width="15.53" height="15.69" fill="#fac47f"/>
<text transform="translate(609.5,177.54) scale(1.05,1)" font-size="8.85" font-style="italic" fill="#111">Pfo04g003350</text>
<rect x="501.10" y="180.53" width="9.30" height="15.69" fill="#73a5db"/>
<rect x="513.10" y="180.53" width="15.93" height="15.69" fill="#f37580"/>
<rect x="528.63" y="180.53" width="15.93" height="15.69" fill="#f37580"/>
<rect x="544.16" y="180.53" width="15.93" height="15.69" fill="#f37883"/>
<rect x="559.69" y="180.53" width="15.93" height="15.69" fill="#fbca8b"/>
<rect x="575.22" y="180.53" width="15.93" height="15.69" fill="#fbce95"/>
<rect x="590.75" y="180.53" width="15.53" height="15.69" fill="#fac27b"/>
<text transform="translate(609.5,192.83) scale(1.05,1)" font-size="8.85" font-style="italic" fill="#111">Pfo08g012760</text>
<rect x="501.10" y="195.82" width="9.30" height="15.69" fill="#73a5db"/>
<rect x="513.10" y="195.82" width="15.93" height="15.69" fill="#f37580"/>
<rect x="528.63" y="195.82" width="15.93" height="15.69" fill="#f37580"/>
<rect x="544.16" y="195.82" width="15.93" height="15.69" fill="#f37883"/>
<rect x="559.69" y="195.82" width="15.93" height="15.69" fill="#fac886"/>
<rect x="575.22" y="195.82" width="15.93" height="15.69" fill="#fac886"/>
<rect x="590.75" y="195.82" width="15.53" height="15.69" fill="#fbca8b"/>
<text transform="translate(609.5,208.12) scale(1.05,1)" font-size="8.85" font-style="italic" fill="#111">Pfo14g001550</text>
<rect x="501.10" y="211.11" width="9.30" height="15.69" fill="#4db360"/>
<rect x="513.10" y="211.11" width="15.93" height="15.69" fill="#f1575e"/>
<rect x="528.63" y="211.11" width="15.93" height="15.69" fill="#f37883"/>
<rect x="544.16" y="211.11" width="15.93" height="15.69" fill="#f8b0b6"/>
<rect x="559.69" y="211.11" width="15.93" height="15.69" fill="#f9b865"/>
<rect x="575.22" y="211.11" width="15.93" height="15.69" fill="#fac886"/>
<rect x="590.75" y="211.11" width="15.53" height="15.69" fill="#fde8cd"/>
<text transform="translate(609.5,223.41) scale(1.05,1)" font-size="8.85" font-style="italic" fill="#111">Pfo06g009500</text>
<rect x="501.10" y="226.40" width="9.30" height="15.69" fill="#4db360"/>
<rect x="513.10" y="226.40" width="15.93" height="15.69" fill="#f37883"/>
<rect x="528.63" y="226.40" width="15.93" height="15.69" fill="#f3707b"/>
<rect x="544.16" y="226.40" width="15.93" height="15.69" fill="#f37580"/>
<rect x="559.69" y="226.40" width="15.93" height="15.69" fill="#fac886"/>
<rect x="575.22" y="226.40" width="15.93" height="15.69" fill="#fac886"/>
<rect x="590.75" y="226.40" width="15.53" height="15.69" fill="#fac886"/>
<text transform="translate(609.5,238.69) scale(1.05,1)" font-size="8.85" font-style="italic" fill="#111">Pfo11g009540</text>
<rect x="501.10" y="241.69" width="9.30" height="15.69" fill="#3fbcc6"/>
<rect x="513.10" y="241.69" width="15.93" height="15.69" fill="#f3727d"/>
<rect x="528.63" y="241.69" width="15.93" height="15.69" fill="#f37580"/>
<rect x="544.16" y="241.69" width="15.93" height="15.69" fill="#f47f89"/>
<rect x="559.69" y="241.69" width="15.93" height="15.69" fill="#fac886"/>
<rect x="575.22" y="241.69" width="15.93" height="15.69" fill="#fac886"/>
<rect x="590.75" y="241.69" width="15.53" height="15.69" fill="#fac886"/>
<text transform="translate(609.5,253.99) scale(1.05,1)" font-size="8.85" font-style="italic" fill="#111">Pfo19g002840</text>
<rect x="501.10" y="256.98" width="9.30" height="15.69" fill="#c3a536"/>
<rect x="513.10" y="256.98" width="15.93" height="15.69" fill="#f4818b"/>
<rect x="528.63" y="256.98" width="15.93" height="15.69" fill="#f4818b"/>
<rect x="544.16" y="256.98" width="15.93" height="15.69" fill="#f36d77"/>
<rect x="559.69" y="256.98" width="15.93" height="15.69" fill="#fbcf97"/>
<rect x="575.22" y="256.98" width="15.93" height="15.69" fill="#fac27b"/>
<rect x="590.75" y="256.98" width="15.53" height="15.69" fill="#fbcb8f"/>
<text transform="translate(609.5,269.27) scale(1.05,1)" font-size="8.85" font-style="italic" fill="#111">Pfo06g008520</text>
<rect x="501.10" y="272.27" width="9.30" height="15.29" fill="#c3a536"/>
<rect x="513.10" y="272.27" width="15.93" height="15.29" fill="#f4858f"/>
<rect x="528.63" y="272.27" width="15.93" height="15.29" fill="#f4818b"/>
<rect x="544.16" y="272.27" width="15.93" height="15.29" fill="#f36d77"/>
<rect x="559.69" y="272.27" width="15.93" height="15.29" fill="#fbce95"/>
<rect x="575.22" y="272.27" width="15.93" height="15.29" fill="#f9ba68"/>
<rect x="590.75" y="272.27" width="15.53" height="15.29" fill="#fbce95"/>
<text transform="translate(609.5,284.56) scale(1.05,1)" font-size="8.85" font-style="italic" fill="#111">Pfo14g007270</text>
<text transform="translate(518.87,290.30) rotate(90) scale(1,1.08)" font-size="8.85" fill="#111">PFD-1</text>
<text transform="translate(534.39,290.30) rotate(90) scale(1,1.08)" font-size="8.85" fill="#111">PFD-2</text>
<text transform="translate(549.93,290.30) rotate(90) scale(1,1.08)" font-size="8.85" fill="#111">PFD-3</text>
<text transform="translate(565.46,290.30) rotate(90) scale(1,1.08)" font-size="8.85" fill="#111">PFN-1</text>
<text transform="translate(580.99,290.30) rotate(90) scale(1,1.08)" font-size="8.85" fill="#111">PFN-2</text>
<text transform="translate(596.51,290.30) rotate(90) scale(1,1.08)" font-size="8.85" fill="#111">PFN-3</text>
<text transform="translate(502.20,290.30) rotate(90) scale(1,1.08)" font-size="9.25" fill="#111">Gene families</text>
<path d="M520.87,72.6 V70.1 H538.51 M536.39,72.6 V70.8 H551.93 V72.6 M544.16,70.8 V70.4 H520.87 M532.9,70.4 V52.7 H586.7 V64.4 M567.46,72.6 V67.3 H582.99 V72.6 M575.3,67.3 V64.4 H598.51 V72.6" fill="none" stroke="#111" stroke-width="1.35" stroke-linejoin="miter"/>
<text x="689.90" y="74.60" font-size="9.35" text-anchor="start" fill="#111">Gene families</text>
<rect x="696.80" y="85.00" width="14.00" height="13.86" fill="#c087c5"/>
<text x="713.20" y="95.20" font-size="9.2" text-anchor="start" fill="#111" font-style="italic">CA</text>
<rect x="696.80" y="98.80" width="14.00" height="13.86" fill="#f3817f"/>
<text x="713.20" y="109.00" font-size="9.2" text-anchor="start" fill="#111" font-style="italic">MDH</text>
<rect x="696.80" y="112.60" width="14.00" height="13.86" fill="#73a5db"/>
<text x="713.20" y="122.80" font-size="9.2" text-anchor="start" fill="#111" font-style="italic">NADP-ME</text>
<rect x="696.80" y="126.40" width="14.00" height="13.86" fill="#4db360"/>
<text x="713.20" y="136.60" font-size="9.2" text-anchor="start" fill="#111" font-style="italic">PEPCK</text>
<rect x="696.80" y="140.20" width="14.00" height="13.86" fill="#3fbcc6"/>
<text x="713.20" y="150.40" font-size="9.2" text-anchor="start" fill="#111" font-style="italic">PPDK</text>
<rect x="696.80" y="154.00" width="14.00" height="13.86" fill="#c3a536"/>
<text x="713.20" y="164.20" font-size="9.2" text-anchor="start" fill="#111" font-style="italic">RBCS</text>
<defs><linearGradient id="cb" x1="0" y1="0" x2="0" y2="1"><stop offset="0" stop-color="#ee3030"/><stop offset="0.245" stop-color="#f58b8b"/><stop offset="0.49" stop-color="#ffffff"/><stop offset="0.75" stop-color="#fbd3a2"/><stop offset="1" stop-color="#f8a232"/></linearGradient></defs>
<rect x="698.50" y="217.30" width="6.50" height="93.30" fill="url(#cb)"/>
<text x="707.80" y="225.40" font-size="9" text-anchor="start" fill="#111">1.5</text>
<text x="707.80" y="238.95" font-size="9" text-anchor="start" fill="#111">1</text>
<text x="707.80" y="252.50" font-size="9" text-anchor="start" fill="#111">0.5</text>
<text x="707.80" y="266.05" font-size="9" text-anchor="start" fill="#111">0</text>
<text x="707.80" y="279.60" font-size="9" text-anchor="start" fill="#111">&#8722;0.5</text>
<text x="707.80" y="293.15" font-size="9" text-anchor="start" fill="#111">&#8722;1</text>
<text x="707.80" y="306.70" font-size="9" text-anchor="start" fill="#111">&#8722;1.5</text>
<text x="477.50" y="39.80" font-size="12.6" text-anchor="start" fill="#111">C</text>
<!-- panelD -->
<rect x="82.7" y="421.7" width="129.80" height="130.10" fill="none" stroke="#111" stroke-width="1.55"/>
<line x1="77.60" y1="421.70" x2="82.70" y2="421.70" stroke="#111" stroke-width="1.3"/>
<text x="75.60" y="425.10" font-size="9.5" text-anchor="end" fill="#111">1.5</text>
<line x1="77.60" y1="465.10" x2="82.70" y2="465.10" stroke="#111" stroke-width="1.3"/>
<text x="75.60" y="468.50" font-size="9.5" text-anchor="end" fill="#111">1.0</text>
<line x1="77.60" y1="508.40" x2="82.70" y2="508.40" stroke="#111" stroke-width="1.3"/>
<text x="75.60" y="511.80" font-size="9.5" text-anchor="end" fill="#111">0.5</text>
<line x1="77.60" y1="551.80" x2="82.70" y2="551.80" stroke="#111" stroke-width="1.3"/>
<text x="75.60" y="555.20" font-size="9.5" text-anchor="end" fill="#111">0.0</text>
<line x1="119.70" y1="551.80" x2="119.70" y2="557.40" stroke="#111" stroke-width="1.3"/>
<text x="119.70" y="566.40" font-size="9.6" text-anchor="middle" fill="#111">PFD</text>
<line x1="176.10" y1="551.80" x2="176.10" y2="557.40" stroke="#111" stroke-width="1.3"/>
<text x="176.10" y="566.40" font-size="9.6" text-anchor="middle" fill="#111">PFN</text>
<text x="141.90" y="414.90" font-size="10" text-anchor="middle" fill="#111">Citrate</text>
<text transform="translate(52.9,489.9) rotate(-90)" font-size="9.5" text-anchor="middle" fill="#111">Fold change</text>
<path d="M119.7,489.8 V432.4 H176.2 V445.6" fill="none" stroke="#111" stroke-width="1.4"/>
<text x="150.70" y="434.20" font-size="10" text-anchor="middle" fill="#111" font-weight="bold" letter-spacing="0.3">***</text>
<path d="M101.6,493.4 H137.8 C139.2,493.4 139.2,496.2 137,497.2 C133,498.6 128.6,498.6 127.6,499.6 C127,501 129.4,503 130.6,504 H108.8 C110,503 112.4,501 111.8,499.6 C110.8,498.6 106.4,498.6 102.4,497.2 C100.2,496.2 100.2,493.4 101.6,493.4 Z" fill="#3aabc9" stroke="#1d8dc0" stroke-width="1.1" stroke-linejoin="round"/>
<line x1="107.00" y1="495.80" x2="132.50" y2="495.80" stroke="#12404f" stroke-width="0.9" stroke-dasharray="1.1 1.1"/>
<path d="M166,451.2 H184.6 C183.6,454 178.6,458 178.4,460.8 C178.6,464.5 190,469.5 193.8,472 V472.8 H157 V472 C160.8,469.5 172.2,464.5 172.4,460.8 C172.2,458 167,454 166,451.2 Z" fill="#f9aa6a" stroke="#f26a35" stroke-width="1.1" stroke-linejoin="round"/>
<line x1="161.00" y1="471.30" x2="190.50" y2="471.30" stroke="#5a2a10" stroke-width="0.9" stroke-dasharray="1.1 1.1"/>
<text x="29.60" y="413.00" font-size="12.6" text-anchor="start" fill="#111">D</text>
<rect x="102.6" y="631" width="35.7" height="90.30" fill="#2f95a9" stroke="#1f7f93" stroke-width="0.9"/>
<rect x="159.8" y="615.9" width="35.7" height="105.40" fill="#f58334" stroke="#ee6a2c" stroke-width="0.9"/>
<path d="M120.4,631 V629.9 M112.2,629.9 H128.6" stroke="#1f6f80" stroke-width="1" fill="none"/>
<path d="M177.6,615.9 V613.2 M168.6,613.2 H186.5" stroke="#ee6a2c" stroke-width="1" fill="none"/>
<rect x="84.6" y="593.1" width="129.30" height="128.20" fill="none" stroke="#111" stroke-width="1.55"/>
<line x1="78.30" y1="593.10" x2="84.60" y2="593.10" stroke="#111" stroke-width="1.3"/>
<text x="76.70" y="596.50" font-size="9.5" text-anchor="end" fill="#111">4.0</text>
<line x1="78.30" y1="625.15" x2="84.60" y2="625.15" stroke="#111" stroke-width="1.3"/>
<text x="76.70" y="628.55" font-size="9.5" text-anchor="end" fill="#111">3.0</text>
<line x1="78.30" y1="657.20" x2="84.60" y2="657.20" stroke="#111" stroke-width="1.3"/>
<text x="76.70" y="660.60" font-size="9.5" text-anchor="end" fill="#111">2.0</text>
<line x1="78.30" y1="689.25" x2="84.60" y2="689.25" stroke="#111" stroke-width="1.3"/>
<text x="76.70" y="692.65" font-size="9.5" text-anchor="end" fill="#111">1.0</text>
<line x1="78.30" y1="721.30" x2="84.60" y2="721.30" stroke="#111" stroke-width="1.3"/>
<text x="76.70" y="724.70" font-size="9.5" text-anchor="end" fill="#111">0.0</text>
<line x1="120.40" y1="721.30" x2="120.40" y2="726.50" stroke="#111" stroke-width="1.3"/>
<text x="120.40" y="736.90" font-size="9.6" text-anchor="middle" fill="#111">PFD</text>
<line x1="177.40" y1="721.30" x2="177.40" y2="726.50" stroke="#111" stroke-width="1.3"/>
<text x="177.40" y="736.90" font-size="9.6" text-anchor="middle" fill="#111">PFN</text>
<text x="147.10" y="587.80" font-size="9.7" text-anchor="middle" fill="#111">PEPC</text>
<path d="M120.4,620.9 V604.4 H176.9 V609.9" fill="none" stroke="#111" stroke-width="1.4"/>
<text x="150.70" y="605.60" font-size="10" text-anchor="middle" fill="#111" font-weight="bold" letter-spacing="0.3">***</text>
<text transform="translate(43.4,663.5) rotate(-90)" font-size="10" text-anchor="middle" fill="#111">Enzyme activity</text>
<text transform="translate(57.2,660.8) rotate(-90)" font-size="9.9" text-anchor="middle" fill="#111" xml:space="preserve">(&#181;mol mg <tspan dy="-4" font-size="6.6">-1</tspan><tspan dy="4">  protein min </tspan><tspan dy="-4" font-size="6.6">-1</tspan><tspan dy="4"> )</tspan></text>
<!-- panelE -->
<defs>
<marker id="ah" markerUnits="userSpaceOnUse" markerWidth="5" markerHeight="4" refX="3.6" refY="1.6" orient="auto"><path d="M0,0 L4,1.6 L0,3.2 Z" fill="#111"/></marker>
<marker id="ahs" markerUnits="userSpaceOnUse" markerWidth="5" markerHeight="4" refX="0.4" refY="1.6" orient="auto"><path d="M4,0 L0,1.6 L4,3.2 Z" fill="#111"/></marker>
<linearGradient id="gBody" x1="0" y1="0" x2="0" y2="1">
<stop offset="0" stop-color="#f4f5f4"/><stop offset="0.22" stop-color="#edf0ed"/><stop offset="0.38" stop-color="#d9e1da"/>
<stop offset="0.50" stop-color="#bfcdc2"/><stop offset="0.61" stop-color="#a2b8a7"/><stop offset="0.71" stop-color="#88a68f"/>
<stop offset="0.81" stop-color="#648e6f"/><stop offset="0.91" stop-color="#43794f"/><stop offset="1" stop-color="#2d693a"/></linearGradient>
<linearGradient id="gNight" x1="0" y1="0" x2="1" y2="0">
<stop offset="0" stop-color="#85857a"/><stop offset="0.3" stop-color="#a1a194"/><stop offset="0.65" stop-color="#c2c1b0"/><stop offset="1" stop-color="#d9d7c5"/></linearGradient>
<linearGradient id="gNightV" x1="0" y1="0" x2="0" y2="1">
<stop offset="0" stop-color="#000" stop-opacity="0.20"/><stop offset="0.5" stop-color="#000" stop-opacity="0.03"/><stop offset="1" stop-color="#fff" stop-opacity="0.22"/></linearGradient>
<linearGradient id="gDay" x1="0" y1="0" x2="0.12" y2="1">
<stop offset="0" stop-color="#eda055"/><stop offset="0.4" stop-color="#f2b470"/><stop offset="1" stop-color="#f9e0b6"/></linearGradient>
<linearGradient id="gDayH" x1="0" y1="0" x2="1" y2="0">
<stop offset="0" stop-color="#fff" stop-opacity="0"/><stop offset="0.5" stop-color="#fff" stop-opacity="0.02"/><stop offset="1" stop-color="#fdf3c8" stop-opacity="0.22"/></linearGradient>
</defs>
<rect x="245.60" y="442.50" width="261.70" height="289.70" fill="url(#gBody)"/>
<rect x="509.20" y="442.50" width="261.80" height="291.10" fill="url(#gBody)"/>
<rect x="245.60" y="416.40" width="261.70" height="26.40" fill="url(#gNight)"/>
<rect x="245.60" y="416.40" width="261.70" height="26.40" fill="url(#gNightV)"/>
<rect x="509.20" y="416.40" width="261.80" height="26.40" fill="url(#gDay)"/>
<rect x="509.20" y="416.40" width="261.80" height="26.40" fill="url(#gDayH)"/>
<text x="233.80" y="413.20" font-size="12.6" text-anchor="start" fill="#111">E</text>
<ellipse cx="335.3" cy="569.4" rx="62" ry="42.8" fill="#e8c0a4" stroke="#f0916c" stroke-width="1"/>
<rect x="397.7" y="579.4" width="95.3" height="66" rx="8.5" fill="#a7a8dc" stroke="#15152a" stroke-width="1.1"/>
<ellipse cx="325.2" cy="673.5" rx="76.2" ry="43.5" fill="#9fd7ae" stroke="#45bb52" stroke-width="1.3" stroke-dasharray="2.6 0.7"/>
<clipPath id="cChN"><ellipse cx="325.2" cy="673.5" rx="75" ry="42.5"/></clipPath><g clip-path="url(#cChN)">
<rect x="295.00" y="659.40" width="89.00" height="3.80" fill="#5ab75d"/>
<rect x="283.40" y="663.00" width="109.10" height="3.40" fill="#5ab75d"/>
<rect x="293.00" y="666.20" width="95.00" height="3.80" fill="#5ab75d"/>
<rect x="293.00" y="669.80" width="43.00" height="3.40" fill="#5ab75d"/>
<rect x="258.80" y="673.00" width="102.20" height="4.20" fill="#5ab75d"/>
<rect x="270.60" y="677.00" width="83.40" height="4.20" fill="#5ab75d"/>
<rect x="271.60" y="681.00" width="113.90" height="3.90" fill="#5ab75d"/>
</g>
<ellipse cx="363.8" cy="651.6" rx="13.4" ry="6.9" fill="#a4bae0" stroke="#6f86b8" stroke-width="0.8"/>
<ellipse cx="372.4" cy="675.3" rx="8.3" ry="5" fill="#a9bfe0" stroke="#6f86b8" stroke-width="0.8"/>
<ellipse cx="290" cy="692.9" rx="11.2" ry="6.7" fill="#a9bfe0" stroke="#6f86b8" stroke-width="0.8"/>
<path d="M333.7,554.0 L333.2,552.2 L332.5,550.4 L331.7,548.7 L330.6,547.1 L329.4,545.5 L328.0,544.1 L326.5,542.8 L324.8,541.6 L323.0,540.6 L321.1,539.7 L319.2,539.0 L317.1,538.4 L315.0,538.0 L312.9,537.8 L310.7,537.8 L308.6,538.0 L306.5,538.3 L304.4,538.8 L302.4,539.5 L300.5,540.3 L298.7,541.3 L297.0,542.4 L295.4,543.7 L294.0,545.1 L292.7,546.6 L291.6,548.2 L290.7,549.9 L290.0,551.7 L287.8,551.0 L290.3,557.6 L296.0,553.5 L293.8,552.8 L294.4,551.4 L295.2,550.1 L296.1,548.8 L297.1,547.6 L298.3,546.5 L299.6,545.5 L301.0,544.6 L302.5,543.8 L304.0,543.1 L305.7,542.6 L307.4,542.2 L309.1,541.9 L310.9,541.8 L312.6,541.8 L314.4,542.0 L316.1,542.3 L317.8,542.7 L319.4,543.3 L321.0,544.0 L322.4,544.8 L323.8,545.8 L325.1,546.8 L326.2,547.9 L327.2,549.2 L328.1,550.5 L328.8,551.8 L329.3,553.2 L329.7,554.7 Z" fill="none" stroke="#2e2e2e" stroke-width="0.75" stroke-linejoin="round"/><path d="M289.1,559.4 L289.4,561.1 L289.9,562.8 L290.5,564.4 L291.3,566.0 L292.2,567.5 L293.3,568.9 L294.5,570.3 L295.9,571.5 L297.3,572.6 L298.9,573.6 L300.6,574.5 L302.3,575.3 L304.2,575.9 L306.1,576.4 L308.0,576.8 L309.9,577.0 L311.9,577.0 L313.9,576.9 L315.8,576.6 L317.7,576.2 L319.6,575.7 L321.4,575.0 L323.1,574.2 L324.7,573.3 L326.3,572.2 L327.7,571.0 L329.0,569.7 L330.2,568.4 L332.1,569.6 L331.6,562.6 L324.9,564.8 L326.8,566.1 L325.9,567.2 L324.8,568.2 L323.6,569.2 L322.4,570.0 L321.0,570.8 L319.6,571.4 L318.1,572.0 L316.6,572.4 L315.0,572.7 L313.4,572.9 L311.8,573.0 L310.2,573.0 L308.6,572.8 L307.0,572.5 L305.5,572.2 L304.0,571.7 L302.5,571.0 L301.2,570.3 L299.9,569.5 L298.6,568.6 L297.5,567.6 L296.5,566.6 L295.6,565.4 L294.9,564.2 L294.2,563.0 L293.7,561.7 L293.3,560.4 L293.1,559.0 Z" fill="none" stroke="#2e2e2e" stroke-width="0.75" stroke-linejoin="round"/>
<text x="300.60" y="433.24" font-size="7.9" text-anchor="middle" fill="#151515" stroke="#151515" stroke-width="0.18">CO<tspan dy="1.8" font-size="5.4">2</tspan><tspan dy="-1.8" font-size="1"> </tspan></text>
<text x="299.30" y="464.74" font-size="7.9" text-anchor="middle" fill="#151515" stroke="#151515" stroke-width="0.18">CO<tspan dy="1.8" font-size="5.4">2</tspan><tspan dy="-1.8" font-size="1"> </tspan></text>
<text x="320.30" y="459.84" font-size="7.9" text-anchor="middle" fill="#ee3a36" stroke="#ee3a36" stroke-width="0.18">CA</text>
<text x="342.40" y="464.74" font-size="7.9" text-anchor="start" fill="#151515" stroke="#151515" stroke-width="0.18">HCO<tspan dy="1.8" font-size="5.4">3</tspan><tspan dy="-4.6" dx="-2.9" font-size="6" font-weight="bold">-</tspan><tspan dy="2.8" dx="1.9">+</tspan><tspan dx="1.2">H</tspan><tspan dy="-2.4" font-size="7" font-weight="bold">+</tspan><tspan dy="2.4" font-size="1"> </tspan></text>
<text x="490.60" y="426.24" font-size="7.9" text-anchor="middle" fill="#151515" stroke="#151515" stroke-width="0.18">Night</text>
<text x="399.70" y="474.64" font-size="7.9" text-anchor="middle" fill="#151515" stroke="#151515" stroke-width="0.18">Pi</text>
<text x="267.40" y="490.14" font-size="7.9" text-anchor="middle" fill="#151515" stroke="#151515" stroke-width="0.18">PGA</text>
<text x="331.20" y="490.14" font-size="7.9" text-anchor="middle" fill="#151515" stroke="#151515" stroke-width="0.18">PEP</text>
<text x="375.60" y="495.04" font-size="7.9" text-anchor="middle" fill="#ee3a36" stroke="#ee3a36" stroke-width="0.18">PEPC</text>
<text x="441.90" y="490.34" font-size="7.9" text-anchor="middle" fill="#151515" stroke="#151515" stroke-width="0.18">OAA</text>
<text x="460.30" y="484.44" font-size="7.9" text-anchor="middle" fill="#ee3a36" stroke="#ee3a36" stroke-width="0.18">MDH</text>
<text x="477.50" y="490.34" font-size="7.9" text-anchor="middle" fill="#151515" stroke="#151515" stroke-width="0.18">MAL</text>
<text x="265.90" y="529.94" font-size="7.9" text-anchor="middle" fill="#151515" stroke="#151515" stroke-width="0.18">TP</text>
<text x="265.60" y="571.24" font-size="7.9" text-anchor="middle" fill="#151515" stroke="#151515" stroke-width="0.18">G6P</text>
<text x="265.90" y="619.14" font-size="7.9" text-anchor="middle" fill="#151515" stroke="#151515" stroke-width="0.18">Glucose</text>
<text x="305.30" y="555.64" font-size="7.9" text-anchor="middle" fill="#151515" stroke="#151515" stroke-width="0.18">TCA</text>
<text x="305.30" y="565.04" font-size="7.9" text-anchor="middle" fill="#151515" stroke="#151515" stroke-width="0.18">Cycle</text>
<text x="315.60" y="561.24" font-size="7.9" text-anchor="start" fill="#151515" stroke="#151515" stroke-width="0.18">Citric acid</text>
<text x="364.40" y="547.84" font-size="7.9" text-anchor="middle" fill="#151515" stroke="#151515" stroke-width="0.18">OAA</text>
<text x="371.00" y="579.14" font-size="7.9" text-anchor="middle" fill="#151515" stroke="#151515" stroke-width="0.18">MAL</text>
<text x="338.10" y="594.94" font-size="7.9" text-anchor="middle" fill="#151515" stroke="#151515" stroke-width="0.18">PYR</text>
<text x="337.20" y="607.54" font-size="7.9" text-anchor="middle" fill="#151515" stroke="#151515" stroke-width="0.18">Mitochondrion</text>
<text x="281.00" y="654.84" font-size="7.9" text-anchor="start" fill="#151515" stroke="#151515" stroke-width="0.18">Glucose</text>
<text x="364.20" y="654.64" font-size="7.9" text-anchor="middle" fill="#151515" stroke="#151515" stroke-width="0.18">Starch</text>
<text x="336.30" y="701.34" font-size="7.9" text-anchor="middle" fill="#151515" stroke="#151515" stroke-width="0.18">Chloroplast</text>
<text x="412.90" y="600.44" font-size="7.9" text-anchor="start" fill="#151515" stroke="#151515" stroke-width="0.18">Malic acid</text>
<text x="477.00" y="600.44" font-size="7.9" text-anchor="middle" fill="#151515" stroke="#151515" stroke-width="0.18">MAL</text>
<text x="473.40" y="625.14" font-size="7.9" text-anchor="middle" fill="#151515" stroke="#151515" stroke-width="0.18">H<tspan dy="-2.4" font-size="7" font-weight="bold">+</tspan><tspan dy="2.4" font-size="1"> </tspan></text>
<text x="408.70" y="641.24" font-size="7.9" text-anchor="start" fill="#151515" stroke="#151515" stroke-width="0.18">Vacuole</text>
<text x="433.80" y="656.24" font-size="7.9" text-anchor="start" fill="#151515" stroke="#151515" stroke-width="0.18">V-ATPase</text>
<text x="433.00" y="675.44" font-size="7.9" text-anchor="start" fill="#151515" stroke="#151515" stroke-width="0.18">ADP+Pi</text>
<text x="474.00" y="675.14" font-size="7.9" text-anchor="middle" fill="#151515" stroke="#151515" stroke-width="0.18">H<tspan dy="-2.4" font-size="7" font-weight="bold">+</tspan><tspan dy="2.4" font-size="1"> </tspan></text>
<text x="491.20" y="675.44" font-size="7.9" text-anchor="start" fill="#151515" stroke="#151515" stroke-width="0.18">ATP</text>
<path d="M302.9,437.2 C302.6,446 297.6,448 298.8,457.4" fill="none" stroke="#111" stroke-width="1.05" marker-end="url(#ah)"/>
<path d="M312.8,461.4 H337.6" fill="none" stroke="#111" stroke-width="1.05" marker-end="url(#ah)"/>
<path d="M282.3,487.3 H318" fill="none" stroke="#111" stroke-width="1.05" marker-end="url(#ah)"/>
<path d="M345.6,487.3 H432.4" fill="none" stroke="#111" stroke-width="1.05" marker-end="url(#ah)"/>
<path d="M350.9,468.2 C356,494 386,492 394.2,476.4" fill="none" stroke="#111" stroke-width="1.05" marker-end="url(#ah)"/>
<path d="M450.4,487.3 H468.6" fill="none" stroke="#111" stroke-width="1.05" marker-end="url(#ah)"/>
<path d="M265.9,522.4 V494.8" fill="none" stroke="#111" stroke-width="1.05" marker-end="url(#ah)"/>
<path d="M265.9,561.2 V535" fill="none" stroke="#111" stroke-width="1.05" marker-end="url(#ah)"/>
<path d="M265.2,604.7 V575.6" fill="none" stroke="#111" stroke-width="1.05" marker-end="url(#ah)" stroke-dasharray="2.2 1.3"/>
<path d="M281.5,650.6 C271,646 265.5,638 265.2,624.6" fill="none" stroke="#111" stroke-width="1.05" marker-end="url(#ah)"/>
<path d="M349.4,651.6 H311.2" fill="none" stroke="#111" stroke-width="1.05" marker-end="url(#ah)" stroke-dasharray="2.2 1.3"/>
<path d="M439.2,494.4 C432,528 404,542 373.6,545" fill="none" stroke="#111" stroke-width="1.05" marker-end="url(#ah)"/>
<path d="M470.2,494.4 C458,540 420,568 380.2,576.8" fill="none" stroke="#111" stroke-width="1.05" marker-end="url(#ah)"/>
<path d="M475.6,493.2 V587.4" fill="none" stroke="#111" stroke-width="1.05" marker-end="url(#ah)"/>
<path d="M369.8,549 C374,555 375.4,562 374.7,570.4" fill="none" stroke="#111" stroke-width="1.05" marker-end="url(#ah)"/>
<path d="M371.9,583 C368,589 360,592.4 348.6,592.2" fill="none" stroke="#111" stroke-width="1.05" marker-end="url(#ah)"/>
<path d="M326.9,592 C320,590 316.6,586.6 314.8,581.4" fill="none" stroke="#111" stroke-width="1.05" marker-end="url(#ah)" stroke-dasharray="2.2 1.3"/>
<path d="M467.6,597.6 H448.6" fill="none" stroke="#111" stroke-width="1.05" marker-end="url(#ah)"/>
<path d="M472,614.2 C468,604 460,598.2 450.2,597.7" fill="none" stroke="#111" stroke-width="1.05" marker-end="url(#ah)"/>
<path d="M472.4,667 V629.2" fill="none" stroke="#111" stroke-width="1.05" marker-end="url(#ah)"/>
<path d="M498,677.4 C492,704 456,704 450.2,676.8" fill="none" stroke="#111" stroke-width="1.05" marker-end="url(#ah)"/>
<ellipse cx="605.2" cy="626.7" rx="77.8" ry="97.7" fill="#9fd7ae" stroke="#45bb52" stroke-width="1.3" stroke-dasharray="2.6 0.7"/>
<rect x="691.2" y="645.6" width="74.1" height="74.6" rx="10" fill="#a7a8dc" stroke="#33334a" stroke-width="0.7"/>
<rect x="574.70" y="667.90" width="90.00" height="4.00" fill="#5ab75d"/>
<rect x="563.40" y="671.80" width="104.50" height="3.70" fill="#5ab75d"/>
<rect x="572.80" y="675.40" width="85.30" height="3.50" fill="#5ab75d"/>
<rect x="558.80" y="678.70" width="58.10" height="3.50" fill="#5ab75d"/>
<rect x="548.40" y="682.00" width="92.90" height="4.70" fill="#5ab75d"/>
<rect x="556.50" y="686.60" width="79.10" height="4.10" fill="#5ab75d"/>
<rect x="552.20" y="690.60" width="107.40" height="3.60" fill="#5ab75d"/>
<ellipse cx="664" cy="658.2" rx="15.8" ry="6.3" fill="#a4bae0" stroke="#6f86b8" stroke-width="0.8"/>
<ellipse cx="653.4" cy="684.7" rx="8.4" ry="5" fill="#a9bfe0" stroke="#6f86b8" stroke-width="0.8"/>
<ellipse cx="628.5" cy="700.4" rx="9.6" ry="5.6" fill="#a9bfe0" stroke="#6f86b8" stroke-width="0.8"/>
<path d="M599.0,554.1 L598.9,552.3 L598.6,550.6 L598.1,548.9 L597.4,547.3 L596.6,545.7 L595.6,544.2 L594.4,542.9 L593.1,541.6 L591.7,540.5 L590.2,539.5 L588.6,538.7 L586.9,538.0 L585.1,537.5 L583.3,537.2 L581.5,537.0 L579.6,537.0 L577.8,537.2 L576.0,537.6 L574.2,538.1 L572.5,538.9 L570.9,539.7 L569.4,540.7 L568.1,541.9 L566.8,543.2 L565.7,544.6 L564.7,546.1 L563.9,547.7 L563.3,549.3 L561.4,548.7 L563.8,554.9 L569.3,551.2 L567.4,550.6 L567.9,549.3 L568.5,548.1 L569.2,547.0 L570.1,546.0 L571.0,545.0 L572.1,544.1 L573.3,543.4 L574.5,542.7 L575.8,542.2 L577.1,541.8 L578.5,541.5 L579.9,541.3 L581.3,541.3 L582.7,541.4 L584.1,541.7 L585.4,542.1 L586.7,542.6 L588.0,543.2 L589.1,543.9 L590.2,544.8 L591.2,545.7 L592.1,546.8 L592.8,547.9 L593.5,549.0 L594.0,550.3 L594.4,551.5 L594.6,552.9 L594.7,554.2 Z" fill="none" stroke="#2e2e2e" stroke-width="0.75" stroke-linejoin="round"/><path d="M562.5,555.0 L562.7,556.6 L563.0,558.3 L563.4,559.8 L564.0,561.4 L564.8,562.8 L565.7,564.2 L566.7,565.5 L567.9,566.7 L569.2,567.8 L570.5,568.8 L572.0,569.7 L573.5,570.4 L575.1,571.0 L576.8,571.4 L578.5,571.7 L580.2,571.8 L581.9,571.8 L583.6,571.6 L585.3,571.2 L586.9,570.8 L588.5,570.1 L590.1,569.4 L591.5,568.5 L592.8,567.4 L594.1,566.3 L595.2,565.1 L596.2,563.7 L597.0,562.3 L598.8,563.2 L597.5,556.7 L591.4,559.4 L593.2,560.3 L592.5,561.4 L591.8,562.4 L590.9,563.4 L590.0,564.2 L589.0,565.0 L587.9,565.7 L586.7,566.2 L585.5,566.7 L584.2,567.1 L582.9,567.3 L581.6,567.5 L580.3,567.5 L579.0,567.4 L577.7,567.2 L576.5,566.9 L575.2,566.4 L574.1,565.9 L572.9,565.3 L571.9,564.5 L570.9,563.7 L570.0,562.8 L569.2,561.8 L568.5,560.7 L568.0,559.6 L567.5,558.5 L567.1,557.3 L566.9,556.1 L566.8,554.9 Z" fill="none" stroke="#2e2e2e" stroke-width="0.75" stroke-linejoin="round"/>
<text x="566.00" y="433.04" font-size="7.9" text-anchor="middle" fill="#151515" stroke="#151515" stroke-width="0.18">CO<tspan dy="1.8" font-size="5.4">2</tspan><tspan dy="-1.8" font-size="1"> </tspan></text>
<text x="757.80" y="425.74" font-size="7.9" text-anchor="middle" fill="#151515" stroke="#151515" stroke-width="0.18">Day</text>
<text x="608.20" y="484.54" font-size="7.9" text-anchor="middle" fill="#151515" stroke="#151515" stroke-width="0.18">ADP</text>
<text x="656.50" y="484.74" font-size="7.9" text-anchor="middle" fill="#151515" stroke="#151515" stroke-width="0.18">ATP</text>
<text x="523.40" y="504.94" font-size="7.9" text-anchor="middle" fill="#151515" stroke="#151515" stroke-width="0.18">PGA</text>
<text x="555.70" y="504.94" font-size="7.9" text-anchor="middle" fill="#151515" stroke="#151515" stroke-width="0.18">PEP</text>
<text x="630.00" y="509.54" font-size="7.9" text-anchor="middle" fill="#ee3a36" stroke="#ee3a36" stroke-width="0.18">PEPCK</text>
<text x="751.00" y="504.14" font-size="7.9" text-anchor="middle" fill="#151515" stroke="#151515" stroke-width="0.18">OAA</text>
<text x="523.40" y="563.14" font-size="7.9" text-anchor="middle" fill="#151515" stroke="#151515" stroke-width="0.18">TP</text>
<text x="581.60" y="553.54" font-size="7.9" text-anchor="middle" fill="#151515" stroke="#151515" stroke-width="0.18">Calvin</text>
<text x="581.20" y="560.84" font-size="7.9" text-anchor="middle" fill="#151515" stroke="#151515" stroke-width="0.18">Cycle</text>
<text x="645.60" y="576.44" font-size="7.9" text-anchor="middle" fill="#151515" stroke="#151515" stroke-width="0.18">CO<tspan dy="1.8" font-size="5.4">2</tspan><tspan dy="-1.8" font-size="1"> </tspan></text>
<text x="722.90" y="539.44" font-size="7.9" text-anchor="middle" fill="#151515" stroke="#151515" stroke-width="0.18">NADH</text>
<text x="752.00" y="564.84" font-size="7.9" text-anchor="start" fill="#ee3a36" stroke="#ee3a36" stroke-width="0.18">MDH</text>
<text x="724.20" y="586.74" font-size="7.9" text-anchor="middle" fill="#151515" stroke="#151515" stroke-width="0.18">NAD<tspan dy="-2.4" font-size="7" font-weight="bold">+</tspan><tspan dy="2.4" font-size="1"> </tspan></text>
<text x="615.20" y="598.14" font-size="7.9" text-anchor="middle" fill="#ee3a36" stroke="#ee3a36" stroke-width="0.18">RUBISCO</text>
<text x="566.00" y="613.14" font-size="7.9" text-anchor="start" fill="#151515" stroke="#151515" stroke-width="0.18">2ADP+Pi</text>
<text x="616.30" y="613.14" font-size="7.9" text-anchor="start" fill="#151515" stroke="#151515" stroke-width="0.18">2ATP</text>
<text x="522.50" y="624.74" font-size="7.9" text-anchor="middle" fill="#151515" stroke="#151515" stroke-width="0.18">G6P</text>
<text x="552.50" y="626.64" font-size="7.9" text-anchor="middle" fill="#151515" stroke="#151515" stroke-width="0.18">PEP</text>
<text x="605.00" y="633.24" font-size="7.9" text-anchor="middle" fill="#ee3a36" stroke="#ee3a36" stroke-width="0.18">PPDK</text>
<text x="650.90" y="626.64" font-size="7.9" text-anchor="middle" fill="#151515" stroke="#151515" stroke-width="0.18">PYR</text>
<text x="696.80" y="626.34" font-size="7.9" text-anchor="middle" fill="#151515" stroke="#151515" stroke-width="0.18">PYR</text>
<text x="699.80" y="607.04" font-size="7.9" text-anchor="middle" fill="#151515" stroke="#151515" stroke-width="0.18">CO<tspan dy="1.8" font-size="5.4">2</tspan><tspan dy="-1.8" font-size="1"> </tspan></text>
<text x="752.50" y="625.74" font-size="7.9" text-anchor="middle" fill="#151515" stroke="#151515" stroke-width="0.18">MAL</text>
<text x="726.40" y="633.24" font-size="7.9" text-anchor="middle" fill="#ee3a36" stroke="#ee3a36" stroke-width="0.18">NADP-ME</text>
<text x="556.30" y="660.74" font-size="7.9" text-anchor="middle" fill="#151515" stroke="#151515" stroke-width="0.18">G6P</text>
<text x="593.20" y="660.74" font-size="7.9" text-anchor="start" fill="#151515" stroke="#151515" stroke-width="0.18">Glucose</text>
<text x="664.00" y="661.14" font-size="7.9" text-anchor="middle" fill="#151515" stroke="#151515" stroke-width="0.18">Starch</text>
<text x="588.10" y="709.84" font-size="7.9" text-anchor="middle" fill="#151515" stroke="#151515" stroke-width="0.18">Chloroplast</text>
<text x="710.80" y="663.14" font-size="7.9" text-anchor="middle" fill="#151515" stroke="#151515" stroke-width="0.18">2H<tspan dy="-2.4" font-size="7" font-weight="bold">+</tspan><tspan dy="2.4" font-size="1"> </tspan></text>
<text x="730.40" y="662.26" font-size="7.4" text-anchor="middle" fill="#151515" stroke="#151515" stroke-width="0.18">+</text>
<text x="753.00" y="662.94" font-size="7.9" text-anchor="middle" fill="#151515" stroke="#151515" stroke-width="0.18">MAL</text>
<text x="731.30" y="703.44" font-size="7.9" text-anchor="middle" fill="#151515" stroke="#151515" stroke-width="0.18">malic acid</text>
<text x="732.40" y="717.44" font-size="7.9" text-anchor="middle" fill="#151515" stroke="#151515" stroke-width="0.18">Vacuole</text>
<path d="M740.3,502.1 H564.4" fill="none" stroke="#111" stroke-width="1.05" marker-end="url(#ah)"/>
<path d="M546,502.1 H532.8" fill="none" stroke="#111" stroke-width="1.05" marker-end="url(#ah)"/>
<path d="M656.8,487 C652,506 616,508 608.8,486.6" fill="none" stroke="#111" stroke-width="1.05" marker-end="url(#ah)"/>
<path d="M673.8,502.3 C626,504 620,548 643.6,568.2" fill="none" stroke="#111" stroke-width="1.05" marker-end="url(#ah)"/>
<path d="M523.4,510 V552.2" fill="none" stroke="#111" stroke-width="1.05" marker-end="url(#ah)"/>
<path d="M522.6,567.6 V614.4" fill="none" stroke="#111" stroke-width="1.05" marker-end="url(#ah)" stroke-dasharray="2.2 1.3"/>
<path d="M553.2,615.4 L555,508.2" fill="none" stroke="#111" stroke-width="1.05" marker-end="url(#ah)"/>
<path d="M750.8,615.4 V508.2" fill="none" stroke="#111" stroke-width="1.05" marker-end="url(#ah)"/>
<path d="M734.8,584.2 C756,580 757,546 734.8,537.2" fill="none" stroke="#111" stroke-width="1.05" marker-end="url(#ah)"/>
<path d="M642.4,579 C641,586 637,591 631.4,593.4" fill="none" stroke="#111" stroke-width="1.05"/>
<path d="M593.2,594.4 C587,590 583.4,585 581.8,578" fill="none" stroke="#111" stroke-width="1.05" marker-end="url(#ah)"/>
<path d="M587.2,615 C592,626.6 616,626.6 621,616.4" fill="none" stroke="#111" stroke-width="1.05" marker-end="url(#ah)"/>
<path d="M565.2,623.8 H635.4" fill="none" stroke="#111" stroke-width="1.05" marker-end="url(#ah)" marker-start="url(#ahs)"/>
<path d="M744,623.5 H706.2" fill="none" stroke="#111" stroke-width="1.05" marker-end="url(#ah)"/>
<path d="M686,623.5 H659.4" fill="none" stroke="#111" stroke-width="1.05" marker-end="url(#ah)"/>
<path d="M736,623.3 C722,622.4 712,617 707.6,609.8" fill="none" stroke="#111" stroke-width="1.05" marker-end="url(#ah)"/>
<path d="M692.4,599.4 L657,577" fill="none" stroke="#111" stroke-width="1.05" marker-end="url(#ah)"/>
<path d="M750.8,652.8 V630.4" fill="none" stroke="#111" stroke-width="1.05" marker-end="url(#ah)"/>
<path d="M523.4,628.4 C524,646 533,655 546,657.6" fill="none" stroke="#111" stroke-width="1.05" marker-end="url(#ah)"/>
<path d="M564.8,657.6 H591.8" fill="none" stroke="#111" stroke-width="1.05" marker-end="url(#ah)"/>
<path d="M622.4,657.6 H648" fill="none" stroke="#111" stroke-width="1.05" marker-end="url(#ah)"/>
<path d="M730.4,667 V693" fill="none" stroke="#111" stroke-width="1.05" marker-end="url(#ah)" marker-start="url(#ahs)"/>
</svg>
</body></html>
